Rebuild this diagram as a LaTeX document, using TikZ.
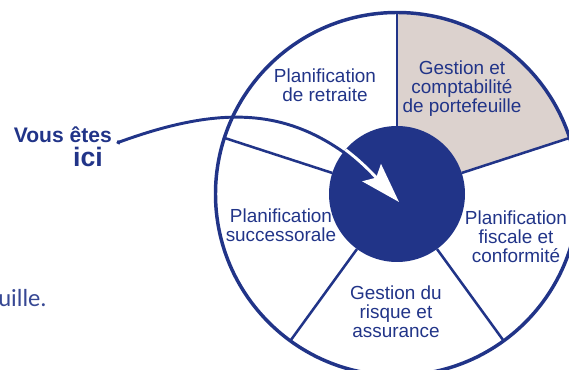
\documentclass[tikz,border=0pt]{standalone}
\usepackage{fontspec}
\setmainfont{Liberation Sans}
\newfontfamily\bodyfont{Carlito}
\usepackage{tikz}
\usetikzlibrary{arrows.meta, calc}
\definecolor{wheelnavy}{HTML}{213488}
\definecolor{wheeltaupe}{HTML}{DCD2CE}

\begin{document}
\begin{tikzpicture}[
  x=0.75pt, y=0.75pt,
  rim/.style={draw=wheelnavy, line width=2.6pt},
  spoke/.style={draw=wheelnavy, line width=1.9pt},
  lbl/.style={align=center, text=wheelnavy, inner sep=0pt,
              font=\fontsize{14.2}{14.3}\selectfont},
  callout/.style={text=wheelnavy, inner sep=0pt,
                  font=\bfseries\fontsize{15.8}{15.8}\selectfont},
  pointer/.style={draw=wheelnavy, line width=2.2pt},
  pointerpath/.style={out=20, in=133, out distance=105pt, in distance=90pt},
]

\clip (0,0) rectangle (569,370);
\coordinate (C) at (397,176);

%% ── Wheel: highlighted segment, rim and spokes ──────────────────────────────
\fill[wheeltaupe] (C) -- ++(18:181.5)
    arc[start angle=18, end angle=90, radius=181.5] -- cycle;
\draw[rim] (C) circle[radius=181.5];
\foreach \a in {90,18,-54,-126,162}
  \draw[spoke] ($(C)+(\a:68)$) -- ($(C)+(\a:181.5)$);

%% ── Segment labels ──────────────────────────────────────────────────────────
\node[lbl] (retraite) at (325,285) {Planification\\de retraite};
\node[lbl] (portef)   at (462,281) {Gestion et\\comptabilité\\de portefeuille};
\node[lbl] (success)  at (281,145) {Planification\\successorale};
\node[lbl] (fiscal)   at (516,133) {Planification\\fiscale et\\conformité};
\node[lbl] (risque)   at (396,58)  {Gestion du\\risque et\\assurance};

%% ── Callout text ────────────────────────────────────────────────────────────
\node[callout, anchor=base east] (vous) at (112,227) {Vous êtes};
\node[callout, anchor=base, font=\bfseries\fontsize{20}{20}\selectfont]
    (ici) at (88,203) {ici};
\node[anchor=base east, inner sep=0pt, text=wheelnavy!90,
      font=\bodyfont\fontsize{18.5}{18.5}\selectfont] (fragment) at (47,63.3) {uille.};

\coordinate (start) at ([xshift=3.5pt]vous.base east);
\coordinate (here)  at (399,168);

%% ── Pointer (navy outside the hub, white inside) ────────────────────────────
\draw[pointer, {Circle[length=3pt]}-] (start) to[pointerpath] (here);

\node[circle, fill=wheelnavy, minimum size=102pt, inner sep=0pt] (hub) at (C) {};

\begin{scope}
  \clip (C) circle[radius=68];
  \draw[pointer, draw=white,
        -{Stealth[length=30pt, width=19pt, inset=5pt]}]
    (start) to[pointerpath] (here);
\end{scope}

\end{tikzpicture}
\end{document}
